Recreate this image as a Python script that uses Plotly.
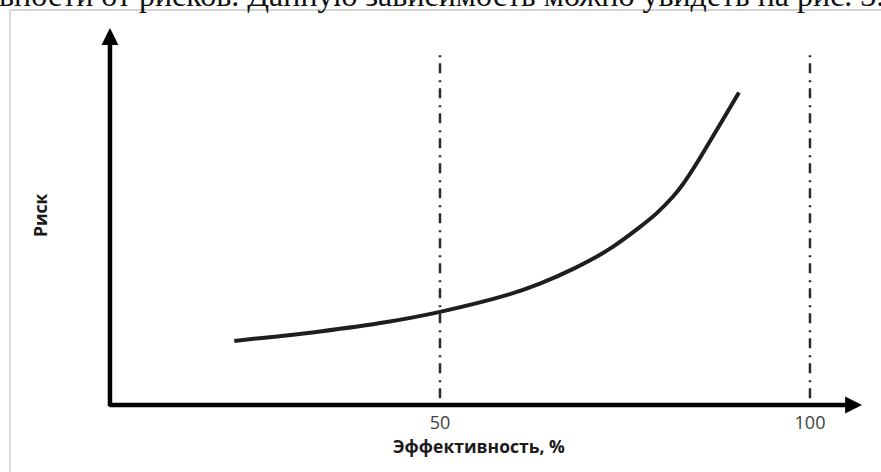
import plotly.graph_objects as go

# Curve "Риск" vs "Эффективность, %" (risk in arbitrary units 0..100)
efficiency = [22.2, 27.0, 33.8, 42.8, 50.0, 59.1, 63.5, 68.0, 72.6, 77.0, 79.3,
              81.5, 82.8, 84.2, 86.1, 88.2, 90.4]
risk = [17.0, 18.0, 19.5, 22.0, 24.7, 29.2, 32.2, 36.1, 41.0, 47.2, 50.9,
        55.3, 58.5, 62.6, 68.7, 75.6, 82.9]

tick_vals = [50, 100]
tick_text = ["50", "100"]
ref_lines = [50, 100]

x_title = "Эффективность, %"
y_title = "Риск"
top_text = "вности от рисков. Данную зависимость можно увидеть на рис. 3."

X_MAX = 107.03
Y_MAX = 100
Y_AXIS_X = 5.4

fig = go.Figure()
fig.add_trace(go.Scatter(
    x=efficiency, y=risk, mode="lines",
    line=dict(color="#1e1e1e", width=4, shape="spline", smoothing=1.0),
    hoverinfo="skip", showlegend=False,
))

shapes = []
for v in ref_lines:
    shapes.append(dict(type="line", xref="x", yref="y", x0=v, x1=v, y0=1.8, y1=94.2,
                       line=dict(color="#2b2b2b", width=2.5, dash="10px,6px,2px,7px")))
# light gray frame (page border of the figure)
shapes.append(dict(type="line", xref="paper", yref="paper", x0=-0.0758, x1=1.05,
                   y0=1.0477, y1=1.0477, line=dict(color="#d4d4d4", width=2)))
shapes.append(dict(type="line", xref="paper", yref="paper", x0=-0.0758, x1=-0.0758,
                   y0=1.0477, y1=-0.2, line=dict(color="#dadada", width=2)))

annotations = [
    # y axis arrow
    dict(x=Y_AXIS_X, y=Y_MAX, ax=Y_AXIS_X, ay=-0.7, xref="x", yref="y", axref="x", ayref="y",
         showarrow=True, arrowhead=2, arrowsize=0.75, arrowwidth=4.5, arrowcolor="#000000",
         standoff=0, startstandoff=0, text=""),
    # x axis arrow
    dict(x=X_MAX, y=0, ax=Y_AXIS_X - 0.3, ay=0, xref="x", yref="y", axref="x", ayref="y",
         showarrow=True, arrowhead=2, arrowsize=0.75, arrowwidth=4.5, arrowcolor="#000000",
         standoff=0, startstandoff=0, text=""),
    dict(x=479, y=446, text="<b>" + x_title + "</b>", xanchor="center", yanchor="middle",
         showarrow=False, font=dict(family="Open Sans", size=17.5, color="#1a1a1a")),
    dict(x=40, y=215, text="<b>" + y_title + "</b>", textangle=-90, xanchor="center",
         yanchor="middle",
         showarrow=False, font=dict(family="Open Sans", size=17.5, color="#1a1a1a")),
    dict(x=-3, y=-5, text=top_text, showarrow=False, xanchor="left", yanchor="middle",
         font=dict(family="Liberation Serif", size=32, color="#111111")),
]

# convert pixel-specified annotations to paper coords
L, R, T, B = 70, 19, 28, 67
W, H = 881, 472
pw, ph = W - L - R, H - T - B
for a in annotations[2:]:
    px, py = a["x"], a["y"]
    a["xref"] = "paper"
    a["yref"] = "paper"
    a["x"] = (px - L) / pw
    a["y"] = (H - B - py) / ph

fig.update_layout(
    width=W, height=H,
    margin=dict(l=L, r=R, t=T, b=B, pad=0),
    paper_bgcolor="white", plot_bgcolor="white",
    xaxis=dict(range=[0, X_MAX], showgrid=False, zeroline=False, showline=False,
               tickvals=tick_vals, ticktext=tick_text, ticks="outside", ticklen=1,
               tickcolor="rgba(0,0,0,0)",
               tickfont=dict(family="Open Sans", size=18, color="#404040"), fixedrange=True),
    yaxis=dict(range=[0, Y_MAX], showgrid=False, zeroline=False, showline=False,
               showticklabels=False, fixedrange=True),
    shapes=shapes,
    annotations=annotations,
    showlegend=False,
)

fig.write_html("out.html", config={"displayModeBar": False},
               post_script="document.body.style.margin='0';document.body.style.overflow='hidden';")
